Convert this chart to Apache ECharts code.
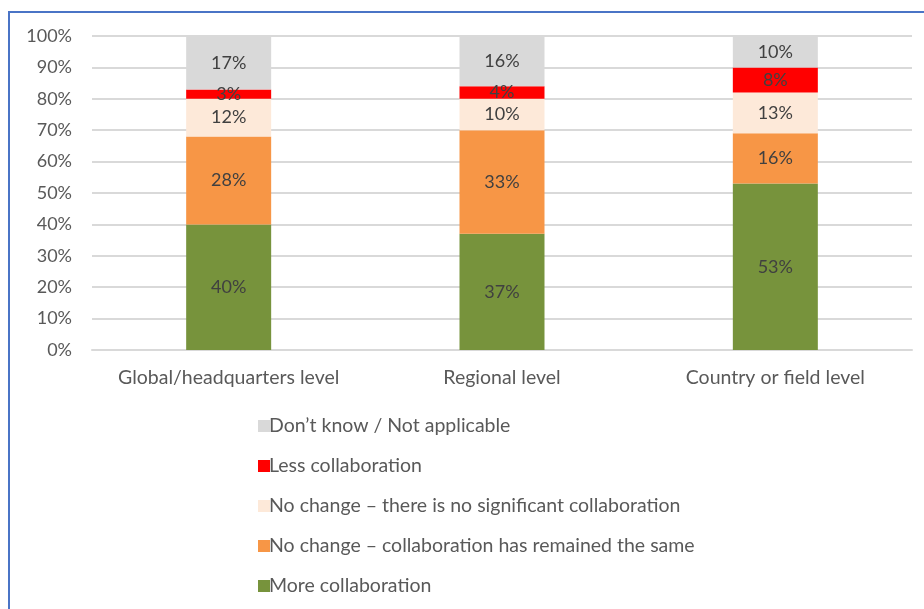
<!DOCTYPE html>
<html>
<head>
<meta charset="utf-8">
<script src="https://cdn.jsdelivr.net/npm/echarts@6/dist/echarts.min.js"></script>
<style>
html,body{margin:0;padding:0;background:#fff;overflow:hidden;}
#frame{position:absolute;left:8px;top:11px;width:1000px;height:700px;border:2px solid #4A74C6;box-sizing:border-box;}
#chart{position:absolute;left:0;top:0;width:924px;height:609px;}
</style>
</head>
<body>
<div id="frame"></div>
<div id="chart"></div>
<script>
const categories = ['Global/headquarters level', 'Regional level', 'Country or field level'];
const seriesNames = ['More collaboration', 'No change \u2013 collaboration has remained the same', 'No change \u2013 there is no significant collaboration', 'Less collaboration', 'Don\u2019t know / Not applicable'];
const moreCollab = [40, 37, 53];
const noChangeSame = [28, 33, 16];
const noChangeNone = [12, 10, 13];
const lessCollab = [3, 4, 8];
const dontKnow = [17, 16, 10];
const yTicks = [0, 10, 20, 30, 40, 50, 60, 70, 80, 90, 100];

const colors = ['#77933C', '#F79646', '#FDE9D9', '#FF0000', '#D9D9D9'];
const values = [moreCollab, noChangeSame, noChangeNone, lessCollab, dontKnow];
const font = 'Lato, "Open Sans", sans-serif';

const chart = echarts.init(document.getElementById('chart'));
chart.setOption({
  animation: false,
  textStyle: {fontFamily: font},
  grid: {left: 92, right: 12, top: 36, bottom: 259, containLabel: false},
  xAxis: {
    type: 'category', data: categories,
    axisLine: {show: true, lineStyle: {color: '#D9D9D9', width: 2}},
    axisTick: {show: false},
    axisLabel: {color: '#595959', fontSize: 19.5, margin: 18, fontFamily: font, interval: 0}
  },
  yAxis: {
    type: 'value', min: 0, max: 100, interval: 10,
    axisLine: {show: false}, axisTick: {show: false},
    splitLine: {lineStyle: {color: '#D9D9D9', width: 2}},
    axisLabel: {color: '#595959', fontSize: 18, margin: 20, fontFamily: font,
      formatter: v => yTicks.includes(v) ? v + '%' : ''}
  },
  legend: {
    orient: 'vertical', left: 253, top: 411, itemGap: 20,
    itemWidth: 12, itemHeight: 12, icon: 'rect',
    data: seriesNames.slice().reverse(),
    textStyle: {color: '#595959', fontSize: 19.5, lineHeight: 20, fontFamily: font, padding: [0, 0, 0, -6]}
  },
  series: seriesNames.map((name, i) => ({
    name, type: 'bar', stack: 'total', barWidth: 85,
    data: values[i],
    itemStyle: {color: colors[i]},
    label: {show: true, position: 'inside', formatter: p => p.value + '%',
      color: '#404040', fontSize: 18, fontFamily: font}
  }))
});
</script>
</body>
</html>
